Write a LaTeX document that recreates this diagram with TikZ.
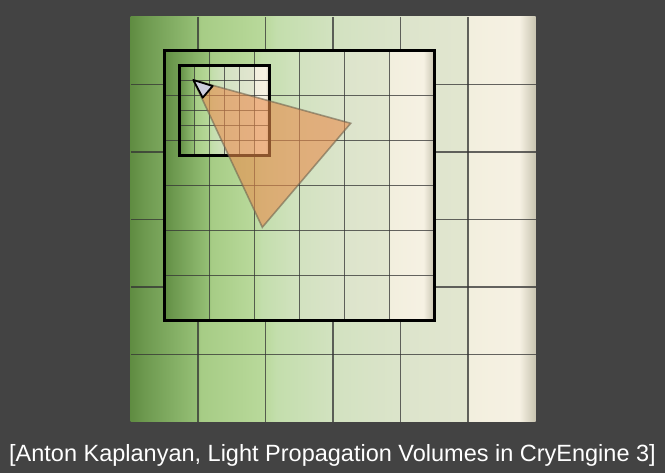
\documentclass[tikz,border=0pt]{standalone}
\usepackage{fontspec}
\setmainfont{Liberation Sans}

\definecolor{backdrop}{RGB}{67,67,67}
\definecolor{conecolor}{RGB}{232,140,76}
\definecolor{coneedge}{RGB}{110,100,80}
\definecolor{camcolor}{RGB}{205,205,222}
% green to cream, the bounding box is mapped to 25bp..75bp
\pgfdeclarehorizontalshading{lpvshade}{100bp}{%
  color(0bp)=(rgb,255:red,95;green,140;blue,65);
  color(25bp)=(rgb,255:red,95;green,140;blue,65);
  color(26.5bp)=(rgb,255:red,108;green,152;blue,78);
  color(33.3bp)=(rgb,255:red,150;green,192;blue,118);
  color(33.6bp)=(rgb,255:red,166;green,204;blue,133);
  color(41.5bp)=(rgb,255:red,185;green,217;blue,155);
  color(43bp)=(rgb,255:red,195;green,222;blue,172);
  color(50bp)=(rgb,255:red,210;green,226;blue,192);
  color(58.5bp)=(rgb,255:red,220;green,228;blue,203);
  color(66.5bp)=(rgb,255:red,226;green,230;blue,208);
  color(66.8bp)=(rgb,255:red,242;green,239;blue,222);
  color(73bp)=(rgb,255:red,246;green,241;blue,227);
  color(75bp)=(rgb,255:red,200;green,196;blue,176);
  color(100bp)=(rgb,255:red,200;green,196;blue,176)}

\begin{document}
\begin{tikzpicture}[x=1pt,y=-1pt,
    gridline/.style={black!80, draw opacity=0.75, line width=1.2pt},
    boxline/.style={black, line width=2.5pt},
    conefill/.style={fill=conecolor, fill opacity=0.6, draw=coneedge, draw opacity=0.6, line width=1.6pt},
    camera/.style={fill=camcolor, draw=black, line width=1.8pt, line join=round}]
    \fill [backdrop] (0,0) rectangle (665,473);% Background
    \coordinate (CoarseNW)   at (130.5,17);
    \coordinate (CoarseSE)   at (535.5,422);
    \coordinate (MediumNW)   at (164.25,50.75);
    \coordinate (MediumSE)   at (434.25,320.75);
    \coordinate (FineNW)     at (179.25,65.75);
    \coordinate (FineSE)     at (269.25,155.75);
    \coordinate (Eye)        at (193.3,80);
    \coordinate (ConeFar)    at (350.7,123.3);
    \coordinate (ConeBottom) at (262.3,227.3);
    \coordinate (CamRight)   at (212.7,86);
    \coordinate (CamBottom)  at (202.7,97.7);
    % Coarse cascade
    \shade [shading=lpvshade] (CoarseNW) rectangle (CoarseSE);
    \foreach \i in {1,...,5}{% Cells of 67.5
        \draw [gridline] (130.5+\i*67.5,17) -- (130.5+\i*67.5,422);
        \draw [gridline] (130.5,17+\i*67.5) -- (535.5,17+\i*67.5);
    }
    % Medium cascade
    \shade [shading=lpvshade] (MediumNW) rectangle (MediumSE);
    \foreach \i in {1,...,5}{% Cells of 45
        \draw [gridline] (164.25+\i*45,50.75) -- (164.25+\i*45,320.75);
        \draw [gridline] (164.25,50.75+\i*45) -- (434.25,50.75+\i*45);
    }
    \draw [boxline] (MediumNW) rectangle (MediumSE);
    % Fine cascade
    \shade [shading=lpvshade] (FineNW) rectangle (FineSE);
    \foreach \i in {1,...,5}{% Cells of 15
        \draw [gridline] (179.25+\i*15,65.75) -- (179.25+\i*15,155.75);
        \draw [gridline] (179.25,65.75+\i*15) -- (269.25,65.75+\i*15);
    }
    \draw [boxline] (FineNW) rectangle (FineSE);
    % View cone and camera
    \draw [conefill] (Eye) -- (ConeFar) -- (ConeBottom) -- cycle;
    \draw [camera] (Eye) -- (CamRight) -- (CamBottom) -- cycle;
    \node [text=white, font=\fontsize{23.5}{28}\selectfont, anchor=base] (Caption) at (332.5,462)
        {[Anton Kaplanyan, Light Propagation Volumes in CryEngine 3]};
\end{tikzpicture}
\end{document}
